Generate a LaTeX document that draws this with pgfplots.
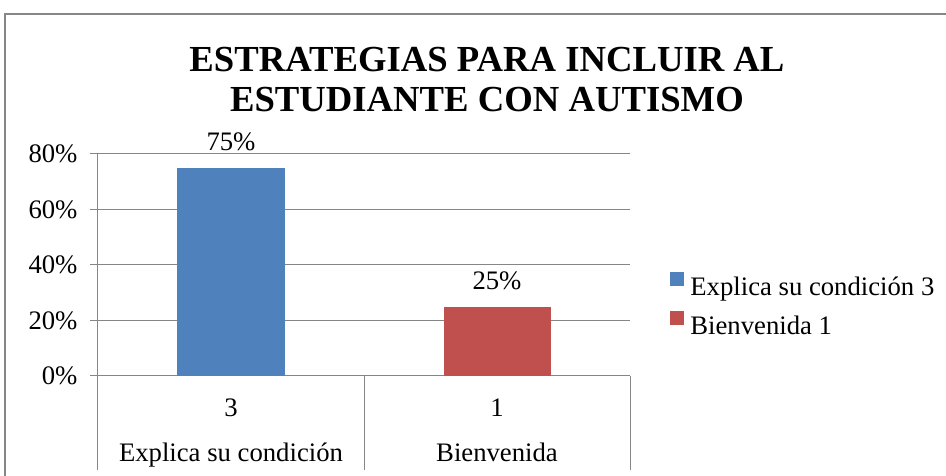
\documentclass[border=0pt]{standalone}
\usepackage{pgfplots}
\pgfplotsset{compat=1.18}
\usepackage{fontspec}
\setmainfont{Liberation Serif}
\definecolor{bblue}{HTML}{4F81BD}
\definecolor{bred}{HTML}{C0504D}
\definecolor{lgray}{RGB}{134,134,134}
\newcommand{\lbl}{\fontsize{26.7}{30}\selectfont}
\begin{document}
\begin{tikzpicture}
\useasboundingbox (0pt,0pt) rectangle (946pt,476pt);
\draw[lgray, line width=2pt] (5pt,-5pt) -- (5pt,462pt) -- (950pt,462pt);
\node[anchor=base, font=\fontsize{36.7}{40}\selectfont\bfseries] at (487pt,404pt) {ESTRATEGIAS PARA INCLUIR AL};
\node[anchor=base, font=\fontsize{36.7}{40}\selectfont\bfseries] at (487pt,364pt) {ESTUDIANTE CON AUTISMO};
\begin{axis}[
  at={(98pt,100pt)}, anchor=south west,
  scale only axis, width=532pt, height=222pt,
  xmin=0, xmax=2, ymin=0, ymax=80,
  ybar, bar width=107pt, bar shift=0pt,
  axis y line*=left, axis x line=none,
  xtick=\empty,
  ytick={0,20,40,60,80},
  yticklabels={0\%,20\%,40\%,60\%,80\%},
  /pgf/number format/assume math mode=true,
  yticklabel style={font=\lbl, xshift=-9pt},
  ymajorgrids, grid style={lgray, line width=1pt},
  y axis line style={lgray, line width=1pt},
  ytick style={lgray, line width=1pt},
  tick align=outside, major tick length=8pt,
  clip=false,
  nodes near coords={\pgfmathprintnumber[assume math mode=true]{\pgfplotspointmeta}\%},
  nodes near coords style={anchor=base, yshift=17pt, font=\lbl, text=black},
  legend image code/.code={\fill[#1,draw=none] (0pt,1pt) rectangle (14pt,15pt);},
  legend style={draw=none, fill=none, at={(axis description cs:1.069,0.32)}, anchor=west,
    font=\lbl, row sep=12pt, /tikz/every odd column/.append style={column sep=4.5pt}},
  legend cell align=left,
]
\addplot[fill=bblue, draw=none] coordinates {(0.5,75)};
\addplot[fill=bred, draw=none] coordinates {(1.5,25)};
\legend{Explica su condición 3, Bienvenida 1}
\draw[lgray, line width=1pt] (axis cs:0,0) -- ++(0pt,-94pt);
\draw[lgray, line width=1pt] (axis cs:1,0) -- ++(0pt,-94pt);
\draw[lgray, line width=1pt] (axis cs:2,0) -- ++(0pt,-94pt);
\node[anchor=base, yshift=-41pt, font=\lbl] at (axis cs:0.5,0) {3};
\node[anchor=base, yshift=-41pt, font=\lbl] at (axis cs:1.5,0) {1};
\node[anchor=base, yshift=-86pt, font=\lbl] at (axis cs:0.5,0) {Explica su condición};
\node[anchor=base, yshift=-86pt, font=\lbl] at (axis cs:1.5,0) {Bienvenida};
\end{axis}
\end{tikzpicture}
\end{document}
